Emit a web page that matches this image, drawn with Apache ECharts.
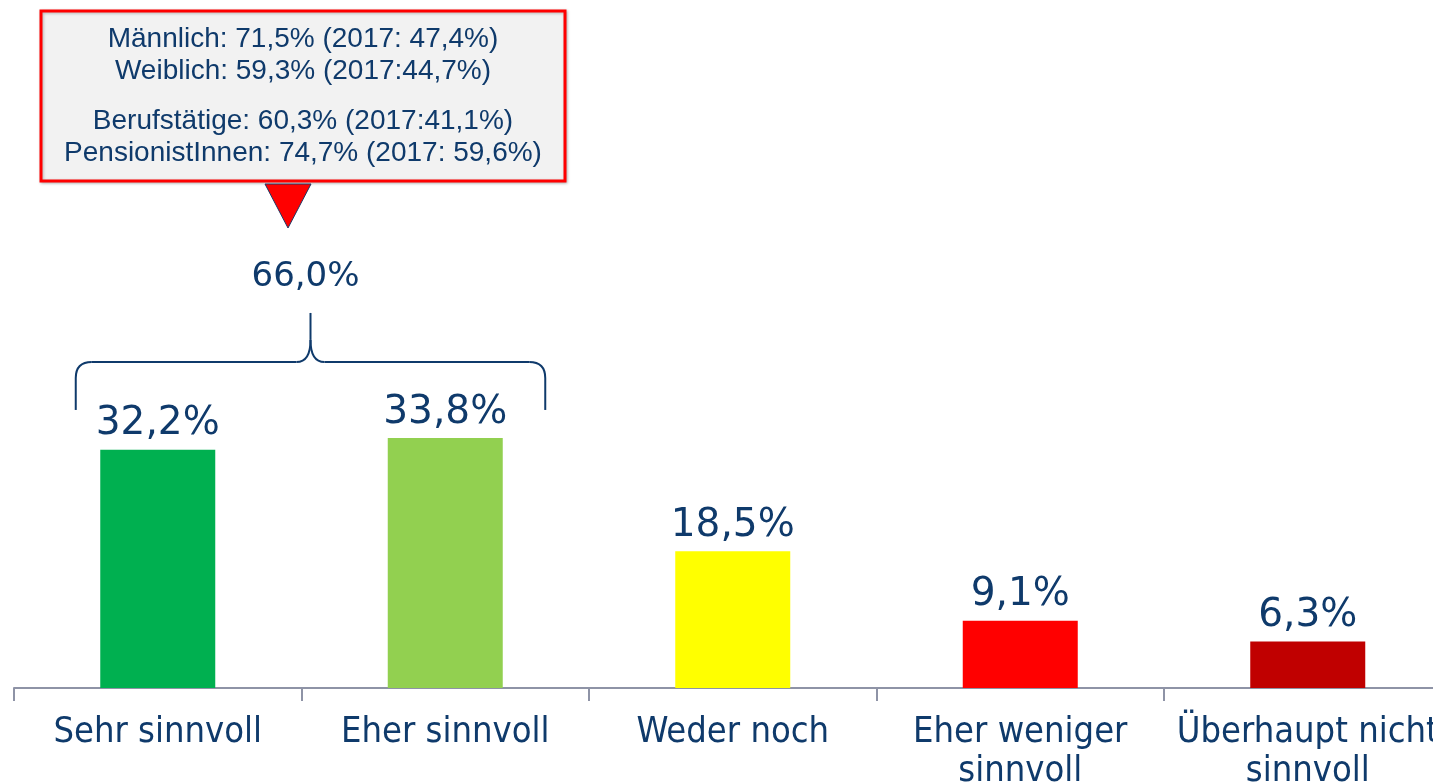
<!DOCTYPE html>
<html>
<head>
<meta charset="utf-8">
<script src="https://cdn.jsdelivr.net/npm/echarts@6/dist/echarts.min.js"></script>
<style>
    html, body { margin: 0; padding: 0; background: #fff; }
    #chart { width: 1433px; height: 783px; }
</style>
</head>
<body>
<div id="chart"></div>
<script>
// Kategorien und Werte
var categories = ['Sehr sinnvoll', 'Eher sinnvoll', 'Weder noch', 'Eher weniger\nsinnvoll', 'Überhaupt nicht\nsinnvoll'];
var values = [32.2, 33.8, 18.5, 9.1, 6.3];
var barColors = ['#00b050', '#92d050', '#ffff00', '#ff0000', '#c00000'];
var sumLabel = '66,0%';
var boxLines1 = ['Männlich: 71,5% (2017: 47,4%)', 'Weiblich: 59,3% (2017:44,7%)'];
var boxLines2 = ['Berufstätige: 60,3% (2017:41,1%)', 'PensionistInnen: 74,7% (2017: 59,6%)'];

var textColor = '#0f3a6b';

var chart = echarts.init(document.getElementById('chart'));

var option = {
    backgroundColor: '#ffffff',
    animation: false,
    grid: {
        left: 14,
        top: 0,
        width: 1437.5,
        height: 688,
        containLabel: false,
        outerBoundsMode: 'none'
    },
    xAxis: {
        type: 'category',
        data: categories,
        axisLine: {
            lineStyle: { color: '#8e93a6', width: 2 }
        },
        axisTick: {
            show: true,
            length: 13,
            lineStyle: { color: '#8e93a6', width: 2 }
        },
        axisLabel: {
            interval: 0,
            margin: 25,
            color: textColor,
            fontFamily: 'DejaVu Sans Condensed',
            fontSize: 36,
            lineHeight: 39
        }
    },
    yAxis: {
        type: 'value',
        min: 0,
        max: 93,
        show: false,
        splitLine: { show: false }
    },
    series: [{
        type: 'bar',
        barWidth: 115,
        data: values.map(function (v, i) {
            return { value: v, itemStyle: { color: barColors[i] } };
        }),
        label: {
            show: true,
            position: 'top',
            distance: 6,
            color: textColor,
            fontFamily: 'DejaVu Sans',
            fontSize: 39,
            formatter: function (p) {
                return p.value.toFixed(1).replace('.', ',') + '%';
            }
        }
    }]
};
chart.setOption(option);

// Klammer + Hinweisbox
var p0 = chart.convertToPixel({ xAxisIndex: 0, yAxisIndex: 0 }, [0, values[0]]);
var p1 = chart.convertToPixel({ xAxisIndex: 0, yAxisIndex: 0 }, [1, values[1]]);
var bl = p0[0] - 82;
var br = p1[0] + 100;
var bm = (bl + br) / 2;
var by = p1[1] - 28;      // unteres Ende
var bh = by - 48;         // waagrechte Linie
var bt = by - 97;         // Spitze
var braceStyle = { stroke: textColor, lineWidth: 2, fill: null };

var graphics = [
    { type: 'polyline', shape: { points: [[bl, by], [bl, bh + 16]] }, style: braceStyle },
    { type: 'bezierCurve', shape: { x1: bl, y1: bh + 16, cpx1: bl, cpy1: bh, x2: bl + 16, y2: bh }, style: braceStyle },
    { type: 'polyline', shape: { points: [[bl + 16, bh], [bm - 14, bh]] }, style: braceStyle },
    { type: 'bezierCurve', shape: { x1: bm - 14, y1: bh, cpx1: bm, cpy1: bh, x2: bm, y2: bh - 22 }, style: braceStyle },
    { type: 'bezierCurve', shape: { x1: bm + 14, y1: bh, cpx1: bm, cpy1: bh, x2: bm, y2: bh - 22 }, style: braceStyle },
    { type: 'polyline', shape: { points: [[bm, bh - 22], [bm, bt]] }, style: braceStyle },
    { type: 'polyline', shape: { points: [[bm + 14, bh], [br - 16, bh]] }, style: braceStyle },
    { type: 'bezierCurve', shape: { x1: br - 16, y1: bh, cpx1: br, cpy1: bh, x2: br, y2: bh + 16 }, style: braceStyle },
    { type: 'polyline', shape: { points: [[br, bh + 16], [br, by]] }, style: braceStyle },
    {
        type: 'text', x: bm - 5, y: bt - 36,
        style: { text: sumLabel, fill: textColor, font: '34px "DejaVu Sans"', textAlign: 'center', textVerticalAlign: 'middle' }
    },
    {
        type: 'rect',
        shape: { x: 41, y: 11, width: 524, height: 170 },
        style: { fill: '#f2f2f2', stroke: '#ff0000', lineWidth: 3, shadowBlur: 3, shadowColor: 'rgba(0,0,0,0.25)', shadowOffsetX: 1, shadowOffsetY: 1 }
    },
    {
        type: 'polygon',
        shape: { points: [[265, 184], [311, 184], [288, 228]] },
        style: { fill: '#ff0000', stroke: '#1f3864', lineWidth: 1 }
    }
];
var lineYs = [39, 71, 121, 153];
boxLines1.concat(boxLines2).forEach(function (t, i) {
    graphics.push({
        type: 'text', x: 303, y: lineYs[i],
        style: { text: t, fill: textColor, font: '28px "Liberation Sans"', textAlign: 'center', textVerticalAlign: 'middle' }
    });
});
chart.setOption({ graphic: graphics });
</script>
</body>
</html>
